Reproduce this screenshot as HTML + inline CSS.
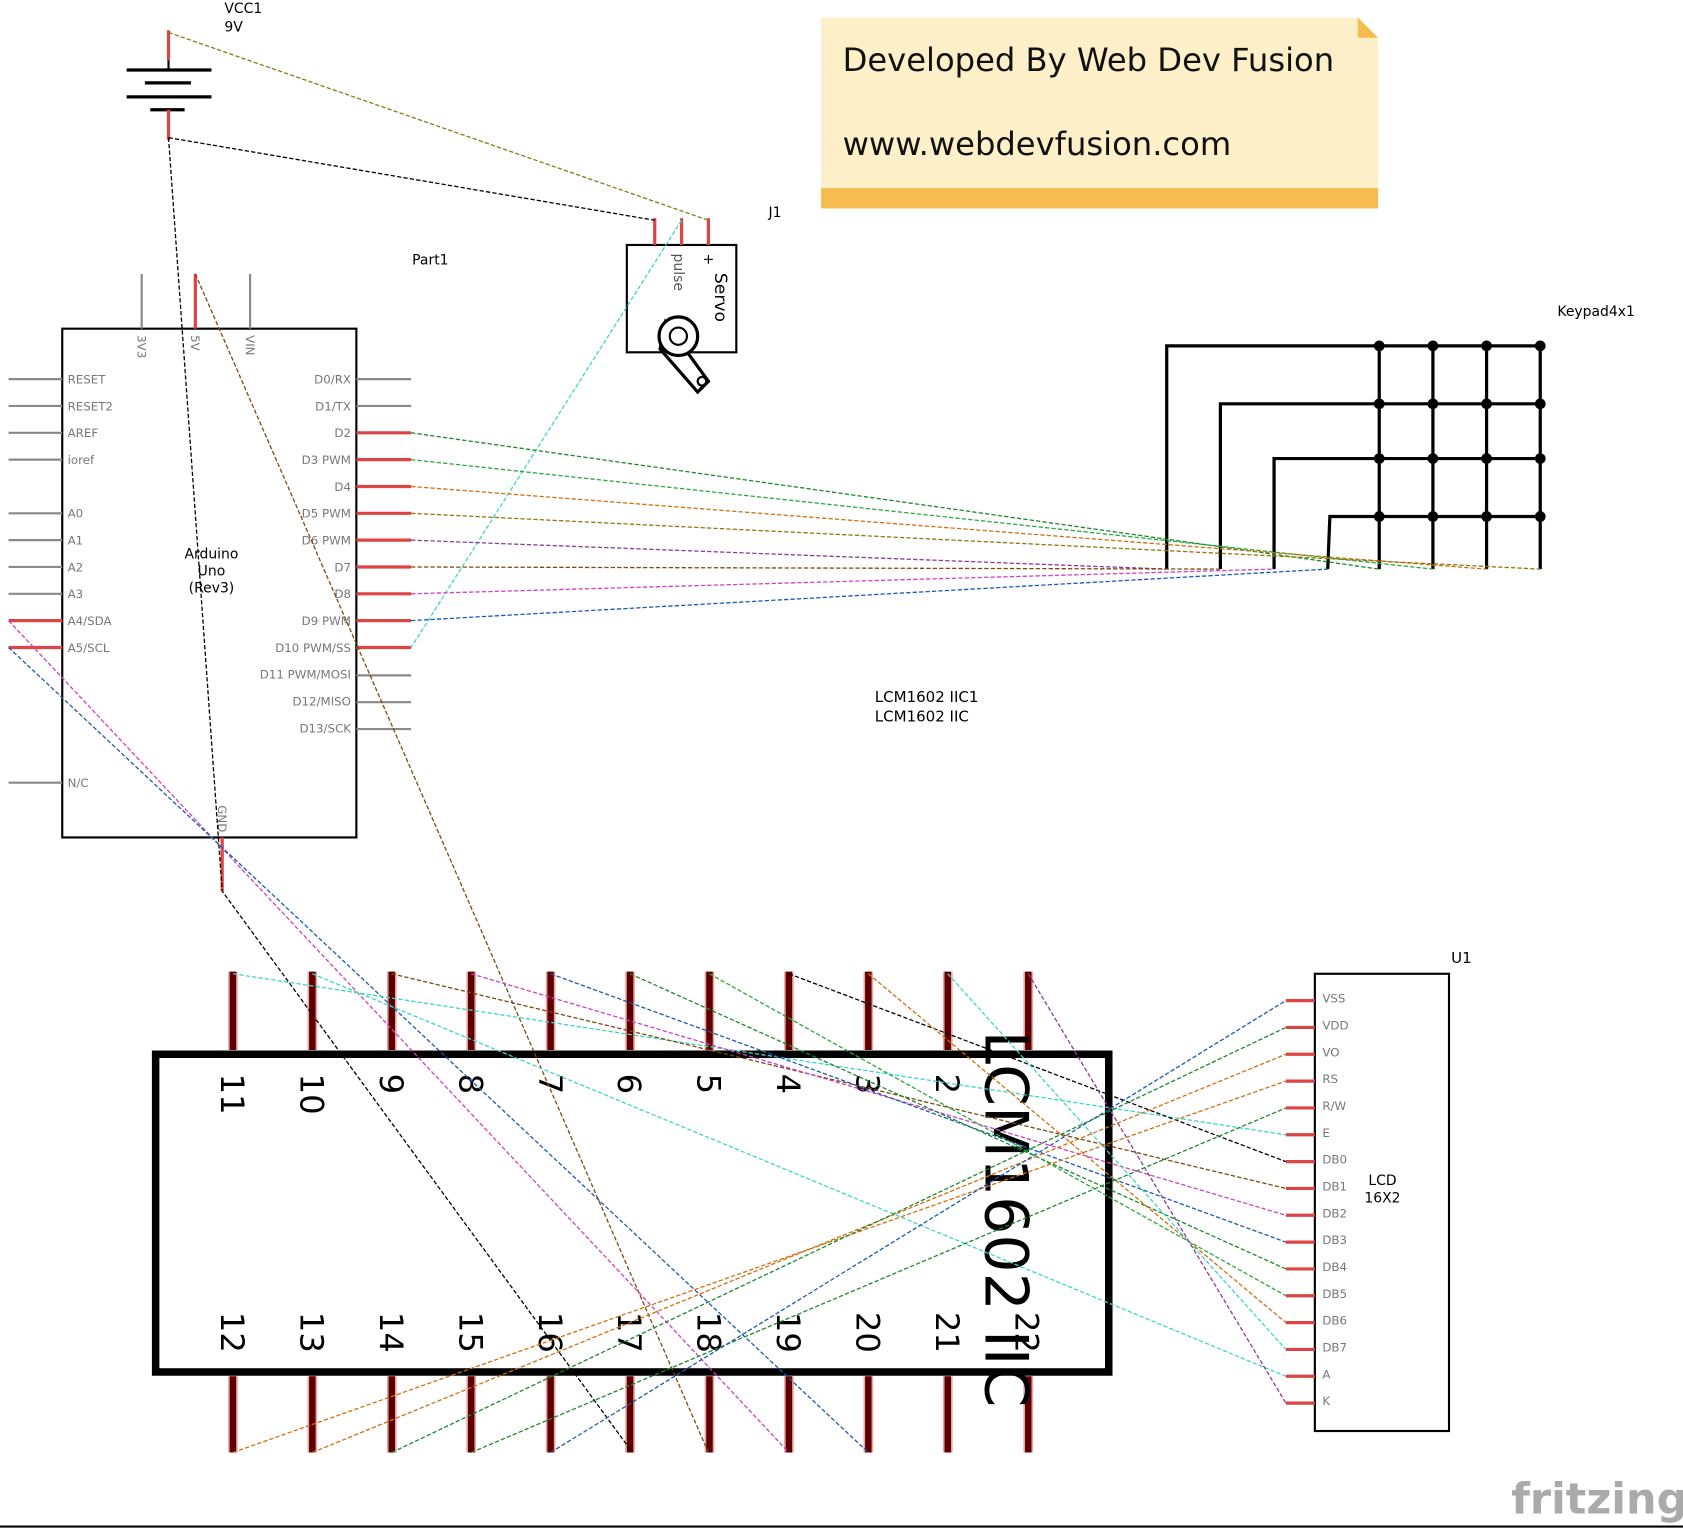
<!DOCTYPE html>
<html><head><meta charset="utf-8"><style>
html,body{margin:0;padding:0;background:#fff;}
svg{display:block;}
text{font-family:"DejaVu Sans","Liberation Sans",sans-serif;}
</style></head><body>
<svg width="1683" height="1530" viewBox="0 0 1568 1425" xmlns="http://www.w3.org/2000/svg">
<rect width="1568" height="1425" fill="#fff"/>
<!-- Note -->
<rect x="765" y="16" width="519" height="178" fill="#fdefc8"/>
<rect x="765" y="175" width="519" height="19" fill="#f7bc4f"/>
<polygon points="1265,16 1284,35 1265,35" fill="#f7bc4f"/>
<polygon points="1265,16 1284,16 1284,35" fill="#fff"/>
<text x="785" y="66" font-size="30" fill="#111">Developed By  Web Dev Fusion</text>
<text x="785" y="144" font-size="30" fill="#111">www.webdevfusion.com</text>
<!-- Battery -->
<text x="209" y="12" font-size="13">VCC1</text>
<text x="209" y="29" font-size="13">9V</text>
<line x1="157" y1="28" x2="157" y2="56" stroke="#d44" stroke-width="3"/>
<line x1="157" y1="56" x2="157" y2="65" stroke="#000" stroke-width="2"/>
<line x1="118" y1="65" x2="197" y2="65" stroke="#000" stroke-width="3"/>
<line x1="135" y1="77" x2="178" y2="77" stroke="#000" stroke-width="3"/>
<line x1="118" y1="90" x2="197" y2="90" stroke="#000" stroke-width="3"/>
<line x1="140" y1="102" x2="172" y2="102" stroke="#000" stroke-width="3"/>
<line x1="157" y1="102" x2="157" y2="130" stroke="#d44" stroke-width="3"/>
<!-- Servo -->
<text x="716" y="202" font-size="13">J1</text>
<rect x="584" y="228" width="102" height="100" fill="none" stroke="#000" stroke-width="2"/>
<line x1="610" y1="203" x2="610" y2="228" stroke="#d44" stroke-width="3"/>
<line x1="635" y1="203" x2="635" y2="228" stroke="#d44" stroke-width="3"/>
<line x1="660" y1="203" x2="660" y2="228" stroke="#d44" stroke-width="3"/>
<text transform="translate(628,236) rotate(90)" font-size="13" fill="#555">pulse</text>
<text transform="translate(666,254) rotate(90)" font-size="16">Servo</text>
<text transform="translate(656,236) rotate(90)" font-size="13">+</text>
<path d="M620,300 L660,355 L650,365 L615,325 Z" fill="#fff" stroke="#000" stroke-width="3"/>
<circle cx="632" cy="313" r="18" fill="#fff" stroke="#000" stroke-width="3"/>
<circle cx="632" cy="313" r="8" fill="none" stroke="#000" stroke-width="2"/>
<circle cx="654" cy="355" r="4" fill="none" stroke="#000" stroke-width="2"/>
<!-- Arduino -->
<text x="384" y="246" font-size="13">Part1</text>
<rect x="58" y="306" width="274" height="474" fill="none" stroke="#000" stroke-width="2"/>
<g stroke="#888" stroke-width="2">
<line x1="132" y1="255" x2="132" y2="306"/><line x1="233" y1="255" x2="233" y2="306"/>
<line x1="8" y1="353" x2="58" y2="353"/><line x1="8" y1="378" x2="58" y2="378"/><line x1="8" y1="403" x2="58" y2="403"/><line x1="8" y1="428" x2="58" y2="428"/>
<line x1="8" y1="478" x2="58" y2="478"/><line x1="8" y1="503" x2="58" y2="503"/><line x1="8" y1="528" x2="58" y2="528"/><line x1="8" y1="553" x2="58" y2="553"/><line x1="8" y1="729" x2="58" y2="729"/>
<line x1="332" y1="353" x2="383" y2="353"/><line x1="332" y1="378" x2="383" y2="378"/>
<line x1="332" y1="629" x2="383" y2="629"/><line x1="332" y1="654" x2="383" y2="654"/><line x1="332" y1="679" x2="383" y2="679"/>
</g>
<g stroke="#d44" stroke-width="3">
<line x1="182" y1="255" x2="182" y2="306"/>
<line x1="8" y1="578" x2="58" y2="578"/><line x1="8" y1="603" x2="58" y2="603"/>
<line x1="332" y1="403" x2="383" y2="403"/><line x1="332" y1="428" x2="383" y2="428"/><line x1="332" y1="453" x2="383" y2="453"/><line x1="332" y1="478" x2="383" y2="478"/><line x1="332" y1="503" x2="383" y2="503"/><line x1="332" y1="528" x2="383" y2="528"/><line x1="332" y1="553" x2="383" y2="553"/><line x1="332" y1="578" x2="383" y2="578"/><line x1="332" y1="603" x2="383" y2="603"/>
<line x1="207" y1="780" x2="207" y2="830"/>
</g>
<g font-size="11" fill="#777">
<text transform="translate(128,312) rotate(90)">3V3</text>
<text transform="translate(178,312) rotate(90)">5V</text>
<text transform="translate(229,312) rotate(90)">VIN</text>
<text transform="translate(203,750) rotate(90)">GND</text>
<text x="63" y="357">RESET</text><text x="63" y="382">RESET2</text><text x="63" y="407">AREF</text><text x="63" y="432">ioref</text>
<text x="63" y="482">A0</text><text x="63" y="507">A1</text><text x="63" y="532">A2</text><text x="63" y="557">A3</text><text x="63" y="582">A4/SDA</text><text x="63" y="607">A5/SCL</text><text x="63" y="733">N/C</text>
<g text-anchor="end">
<text x="327" y="357">D0/RX</text><text x="327" y="382">D1/TX</text><text x="327" y="407">D2</text><text x="327" y="432">D3 PWM</text><text x="327" y="457">D4</text><text x="327" y="482">D5 PWM</text><text x="327" y="507">D6 PWM</text><text x="327" y="532">D7</text><text x="327" y="557">D8</text><text x="327" y="582">D9 PWM</text><text x="327" y="607">D10 PWM/SS</text><text x="327" y="632">D11 PWM/MOSI</text><text x="327" y="657">D12/MISO</text><text x="327" y="682">D13/SCK</text>
</g></g>
<g font-size="13" text-anchor="middle"><text x="197" y="520">Arduino</text><text x="197" y="536">Uno</text><text x="197" y="552">(Rev3)</text></g>
<!-- Keypad -->
<text x="1451" y="294" font-size="13">Keypad4x1</text>
<g stroke="#000" stroke-width="3" fill="none">
<polyline points="1087,530 1087,322 1435,322"/>
<polyline points="1137,530 1137,376 1435,376"/>
<polyline points="1187,530 1187,427 1435,427"/>
<polyline points="1237,530 1239,481 1435,481"/>
<line x1="1285" y1="322" x2="1285" y2="530"/><line x1="1335" y1="322" x2="1335" y2="530"/><line x1="1385" y1="322" x2="1385" y2="530"/><line x1="1435" y1="322" x2="1435" y2="530"/>
</g>
<g fill="#000">
<circle cx="1285" cy="322" r="5"/><circle cx="1335" cy="322" r="5"/><circle cx="1385" cy="322" r="5"/><circle cx="1435" cy="322" r="5"/>
<circle cx="1285" cy="376" r="5"/><circle cx="1335" cy="376" r="5"/><circle cx="1385" cy="376" r="5"/><circle cx="1435" cy="376" r="5"/>
<circle cx="1285" cy="427" r="5"/><circle cx="1335" cy="427" r="5"/><circle cx="1385" cy="427" r="5"/><circle cx="1435" cy="427" r="5"/>
<circle cx="1285" cy="481" r="5"/><circle cx="1335" cy="481" r="5"/><circle cx="1385" cy="481" r="5"/><circle cx="1435" cy="481" r="5"/>
</g>
<text x="815" y="654" font-size="14">LCM1602 IIC1</text>
<text x="815" y="672" font-size="14">LCM1602 IIC</text>
<!-- LCM1602 -->
<rect x="145" y="982" width="888" height="296" fill="none" stroke="#000" stroke-width="7"/>
<g stroke="#f0a0a0" stroke-width="9">
<line x1="217" y1="905" x2="217" y2="978"/><line x1="291" y1="905" x2="291" y2="978"/><line x1="365" y1="905" x2="365" y2="978"/><line x1="439" y1="905" x2="439" y2="978"/><line x1="513" y1="905" x2="513" y2="978"/><line x1="587" y1="905" x2="587" y2="978"/><line x1="661" y1="905" x2="661" y2="978"/><line x1="735" y1="905" x2="735" y2="978"/><line x1="809" y1="905" x2="809" y2="978"/><line x1="883" y1="905" x2="883" y2="978"/><line x1="958" y1="905" x2="958" y2="978"/>
<line x1="217" y1="1282" x2="217" y2="1353"/><line x1="291" y1="1282" x2="291" y2="1353"/><line x1="365" y1="1282" x2="365" y2="1353"/><line x1="439" y1="1282" x2="439" y2="1353"/><line x1="513" y1="1282" x2="513" y2="1353"/><line x1="587" y1="1282" x2="587" y2="1353"/><line x1="661" y1="1282" x2="661" y2="1353"/><line x1="735" y1="1282" x2="735" y2="1353"/><line x1="809" y1="1282" x2="809" y2="1353"/><line x1="883" y1="1282" x2="883" y2="1353"/><line x1="958" y1="1282" x2="958" y2="1353"/>
</g>
<g stroke="#5a0000" stroke-width="6">
<line x1="217" y1="905" x2="217" y2="978"/><line x1="291" y1="905" x2="291" y2="978"/><line x1="365" y1="905" x2="365" y2="978"/><line x1="439" y1="905" x2="439" y2="978"/><line x1="513" y1="905" x2="513" y2="978"/><line x1="587" y1="905" x2="587" y2="978"/><line x1="661" y1="905" x2="661" y2="978"/><line x1="735" y1="905" x2="735" y2="978"/><line x1="809" y1="905" x2="809" y2="978"/><line x1="883" y1="905" x2="883" y2="978"/><line x1="958" y1="905" x2="958" y2="978"/>
<line x1="217" y1="1282" x2="217" y2="1353"/><line x1="291" y1="1282" x2="291" y2="1353"/><line x1="365" y1="1282" x2="365" y2="1353"/><line x1="439" y1="1282" x2="439" y2="1353"/><line x1="513" y1="1282" x2="513" y2="1353"/><line x1="587" y1="1282" x2="587" y2="1353"/><line x1="661" y1="1282" x2="661" y2="1353"/><line x1="735" y1="1282" x2="735" y2="1353"/><line x1="809" y1="1282" x2="809" y2="1353"/><line x1="883" y1="1282" x2="883" y2="1353"/><line x1="958" y1="1282" x2="958" y2="1353"/>
</g>
<g font-size="30">
<text transform="translate(206,1000) rotate(90)">11</text><text transform="translate(280,1000) rotate(90)">10</text><text transform="translate(354,1000) rotate(90)">9</text><text transform="translate(428,1000) rotate(90)">8</text><text transform="translate(502,1000) rotate(90)">7</text><text transform="translate(576,1000) rotate(90)">6</text><text transform="translate(650,1000) rotate(90)">5</text><text transform="translate(724,1000) rotate(90)">4</text><text transform="translate(798,1000) rotate(90)">3</text><text transform="translate(872,1000) rotate(90)">2</text>
<text transform="translate(206,1222) rotate(90)">12</text><text transform="translate(280,1222) rotate(90)">13</text><text transform="translate(354,1222) rotate(90)">14</text><text transform="translate(428,1222) rotate(90)">15</text><text transform="translate(502,1222) rotate(90)">16</text><text transform="translate(576,1222) rotate(90)">17</text><text transform="translate(650,1222) rotate(90)">18</text><text transform="translate(724,1222) rotate(90)">19</text><text transform="translate(798,1222) rotate(90)">20</text><text transform="translate(872,1222) rotate(90)">21</text><text transform="translate(946,1222) rotate(90)">22</text>
</g>
<text transform="translate(918,960) rotate(90)" font-size="56">LCM1602 IIC</text>
<!-- LCD -->
<text x="1352" y="897" font-size="14">U1</text>
<rect x="1225" y="907" width="125" height="426" fill="none" stroke="#000" stroke-width="2"/>
<g stroke="#d44" stroke-width="3">
<line x1="1198" y1="932" x2="1225" y2="932"/><line x1="1198" y1="957" x2="1225" y2="957"/><line x1="1198" y1="982" x2="1225" y2="982"/><line x1="1198" y1="1007" x2="1225" y2="1007"/><line x1="1198" y1="1032" x2="1225" y2="1032"/><line x1="1198" y1="1057" x2="1225" y2="1057"/><line x1="1198" y1="1082" x2="1225" y2="1082"/><line x1="1198" y1="1107" x2="1225" y2="1107"/><line x1="1198" y1="1132" x2="1225" y2="1132"/><line x1="1198" y1="1157" x2="1225" y2="1157"/><line x1="1198" y1="1182" x2="1225" y2="1182"/><line x1="1198" y1="1207" x2="1225" y2="1207"/><line x1="1198" y1="1232" x2="1225" y2="1232"/><line x1="1198" y1="1257" x2="1225" y2="1257"/><line x1="1198" y1="1282" x2="1225" y2="1282"/><line x1="1198" y1="1307" x2="1225" y2="1307"/>
</g>
<g font-size="11" fill="#777">
<text x="1232" y="934">VSS</text><text x="1232" y="959">VDD</text><text x="1232" y="984">VO</text><text x="1232" y="1009">RS</text><text x="1232" y="1034">R/W</text><text x="1232" y="1059">E</text><text x="1232" y="1084">DB0</text><text x="1232" y="1109">DB1</text><text x="1232" y="1134">DB2</text><text x="1232" y="1159">DB3</text><text x="1232" y="1184">DB4</text><text x="1232" y="1209">DB5</text><text x="1232" y="1234">DB6</text><text x="1232" y="1259">DB7</text><text x="1232" y="1284">A</text><text x="1232" y="1309">K</text>
</g>
<g font-size="13" text-anchor="middle"><text x="1288" y="1104">LCD</text><text x="1288" y="1120">16X2</text></g>
<!-- Wires -->
<g fill="none" stroke-width="1.2" stroke-dasharray="4,2">
<line x1="157" y1="30" x2="660" y2="205" stroke="#8a7a10"/>
<line x1="157" y1="128" x2="610" y2="205" stroke="#000"/>
<polyline points="157,128 207,830 587,1350" stroke="#000"/>
<line x1="182" y1="255" x2="660" y2="1353" stroke="#7a4a10"/>
<line x1="635" y1="205" x2="383" y2="603" stroke="#3dd6c6"/>
<line x1="383" y1="403" x2="1285" y2="530" stroke="#1a8a2a"/>
<line x1="383" y1="428" x2="1335" y2="530" stroke="#2aa83a"/>
<line x1="383" y1="453" x2="1385" y2="530" stroke="#d07010"/>
<line x1="383" y1="478" x2="1435" y2="530" stroke="#8a7a10"/>
<line x1="383" y1="503" x2="1087" y2="530" stroke="#8a3a9a"/>
<line x1="383" y1="528" x2="1137" y2="530" stroke="#7a4a10"/>
<line x1="383" y1="553" x2="1187" y2="530" stroke="#d040c0"/>
<line x1="383" y1="578" x2="1237" y2="530" stroke="#1a5ab0"/>
<line x1="8" y1="578" x2="735" y2="1353" stroke="#d040c0"/>
<line x1="8" y1="603" x2="809" y2="1353" stroke="#1a5ab0"/>
<line x1="217" y1="907" x2="1198" y2="1057" stroke="#3dd6c6"/>
<line x1="291" y1="907" x2="1198" y2="1282" stroke="#3dd6c6"/>
<line x1="365" y1="907" x2="1198" y2="1107" stroke="#7a4a10"/>
<line x1="439" y1="907" x2="1198" y2="1132" stroke="#d040c0"/>
<line x1="513" y1="907" x2="1198" y2="1157" stroke="#1a5ab0"/>
<line x1="587" y1="907" x2="1198" y2="1182" stroke="#1a8a2a"/>
<line x1="661" y1="907" x2="1198" y2="1207" stroke="#2aa83a"/>
<line x1="735" y1="907" x2="1198" y2="1082" stroke="#000"/>
<line x1="809" y1="907" x2="1198" y2="1232" stroke="#d07010"/>
<line x1="883" y1="907" x2="1198" y2="1257" stroke="#3dd6c6"/>
<line x1="958" y1="907" x2="1198" y2="1307" stroke="#8a3a9a"/>
<line x1="217" y1="1353" x2="1198" y2="1007" stroke="#d07010"/>
<line x1="291" y1="1353" x2="1198" y2="982" stroke="#d07010"/>
<line x1="365" y1="1353" x2="1198" y2="957" stroke="#1a8a2a"/>
<line x1="439" y1="1353" x2="1198" y2="1032" stroke="#1a8a2a"/>
<line x1="513" y1="1353" x2="1198" y2="932" stroke="#1a5ab0"/>
</g>
<text x="1408" y="1410" font-size="40" fill="#aaa" font-weight="bold">fritzing</text>
<line x1="0" y1="1422" x2="1568" y2="1422" stroke="#000" stroke-width="2"/>
</svg>
</body></html>
